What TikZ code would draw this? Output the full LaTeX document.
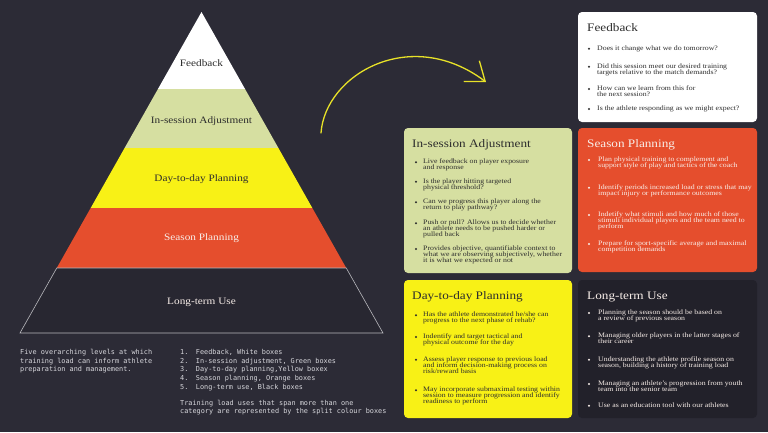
\documentclass[tikz,border=0pt]{standalone}
\usepackage{fontspec}
\setmainfont{Liberation Serif}[FakeStretch=1.15]
\newfontfamily\monof{DejaVu Sans Mono}
\usetikzlibrary{arrows.meta}
\definecolor{bg}{RGB}{44,43,54}
\definecolor{darkbox}{RGB}{34,33,42}
\definecolor{pdark}{RGB}{40,39,49}
\definecolor{pgreen}{RGB}{214,223,161}
\definecolor{pyellow}{RGB}{248,241,22}
\definecolor{porange}{RGB}{229,78,45}
\definecolor{arrowy}{RGB}{232,226,40}
\definecolor{darktext}{RGB}{45,45,45}
\definecolor{lighttext}{RGB}{248,238,233}
\definecolor{monotx}{RGB}{215,215,220}
\definecolor{outl}{RGB}{185,185,190}
\newcommand\myitem[6]{%
  \fill (#2,#4) circle[radius=1.1pt];
  \node[itemtext] (#1) at (#3,{#4-4.6}) {\vrule height 6pt depth 0pt width 0pt#6};}
\newcommand\monoline[4]{%
  \node[monotext] (#1) at (#2,{#3+1.9-6}) {\vrule height 6pt depth 0pt width 0pt#4};}
\begin{document}
\lineskiplimit=-10pt
\begin{tikzpicture}[x=1pt,y=-1pt,
  box/.style={rounded corners=4pt},
  ttl/.style={anchor=base west, inner sep=0, font=\fontsize{11.5}{13}\selectfont},
  itemtext/.style={inner sep=0, anchor=north west, align=left,
    font=\fontsize{6.8}{6}\selectfont},
  plabel/.style={anchor=base, inner sep=0, font=\fontsize{9.8}{11}\selectfont},
  monotext/.style={inner sep=0, anchor=north west, align=left, text=monotx,
    font=\monof\fontsize{6.85}{8.65}\selectfont}]
\fill[bg] (0,0) rectangle (768,432);
\useasboundingbox (0,0) rectangle (768,432);

% ---------- pyramid ----------
\coordinate (apex) at (201.5,12);
\fill[white] (apex) -- (245.04,89) -- (157.96,89) -- cycle;
\fill[pgreen] (157.96,89) -- (245.04,89) -- (278.4,148) -- (124.6,148) -- cycle;
\fill[pyellow] (124.6,148) -- (278.4,148) -- (312.32,208) -- (90.68,208) -- cycle;
\fill[porange] (90.68,208) -- (312.32,208) -- (346.25,268) -- (56.75,268) -- cycle;
\filldraw[fill=pdark, draw=outl, line width=0.6pt] (56.75,268) -- (346.25,268) -- (383,333) -- (20,333) -- cycle;

\node[plabel, text=darktext] (pFeed) at (201.5,{63+3.2}) {Feedback};
\node[plabel, text=darktext] (pIn) at (201.5,{120+3.2}) {In-session Adjustment};
\node[plabel, text=darktext] (pDay) at (201.5,{178+3.2}) {Day-to-day Planning};
\node[plabel, text=lighttext] (pSeason) at (201.5,{237+3.2}) {Season Planning};
\node[plabel, text=lighttext] (pLong) at (201.5,{301+3.2}) {Long-term Use};

% ---------- arrow ----------
\coordinate (arrS) at (321,133);
\coordinate (arrE) at (486,82);
\draw[arrowy, line width=1.3pt, line cap=round,
  -{Straight Barb[length=17pt,width=26pt,line width=1.3pt]}]
  (arrS) .. controls (325,75) and (410,25) .. (arrE);

% ---------- boxes ----------
\fill[box, white] (578,12) rectangle (757,122);
\fill[box, pgreen] (404,128) rectangle (572,273);
\fill[box, porange] (578,128) rectangle (757,272);
\fill[box, pyellow] (404,280) rectangle (572,418);
\fill[box, darkbox] (578,280) rectangle (757,418);

% Feedback
\begin{scope}[color=darktext]
\node[ttl] (tFeed) at (587,{27.5+3.8}) {Feedback};
\myitem{fb1}{589}{597}{48.7}{1}{Does it change what we do tomorrow?}
\myitem{fb2}{589}{597}{66.7}{2}{Did this session meet our desired training\\targets relative to the match demands?}
\myitem{fb3}{589}{597}{89}{2}{How can we learn from this for\\the next session?}
\myitem{fb4}{589}{597}{109}{1}{Is the athlete responding as we might expect?}
\end{scope}

% In-session
\begin{scope}[color=darktext]
\node[ttl] (tIn) at (412,{143.5+3.8}) {In-session Adjustment};
\myitem{is1}{416}{423}{162.3}{2}{Live feedback on player exposure\\and response}
\myitem{is2}{416}{423}{181.7}{2}{Is the player hitting targeted\\physical threshold?}
\myitem{is3}{416}{423}{202.3}{2}{Can we progress this player along the\\return to play pathway?}
\myitem{is4}{416}{423}{223.3}{3}{Push or pull? Allows us to decide whether\\an athlete needs to be pushed harder or\\pulled back}
\myitem{is5}{416}{423}{249}{3}{Provides objective, quantifiable context to\\what we are observing subjectively, whether\\it is what we expected or not}
\end{scope}

% Season
\begin{scope}[color=lighttext]
\node[ttl] (tSeason) at (587,{143.5+3.8}) {Season Planning};
\myitem{sp1}{589}{598}{160}{2}{Plan physical training to complement and\\support style of play and tactics of the coach}
\myitem{sp2}{589}{598}{187.7}{2}{Identify periods increased load or stress that may\\impact injury or performance outcomes}
\myitem{sp3}{589}{598}{215}{3}{Indetify what stimuli and how much of those\\stimuli individual players and the team need to\\perform}
\myitem{sp4}{589}{598}{244}{2}{Prepare for sport-specific average and maximal\\competition demands}
\end{scope}

% Day-to-day
\begin{scope}[color=darktext]
\node[ttl] (tDay) at (412,{295.5+3.8}) {Day-to-day Planning};
\myitem{dd1}{416}{423}{315.3}{2}{Has the athlete demonstrated he/she can\\progress to the next phase of rehab?}
\myitem{dd2}{416}{423}{337}{2}{Indentify and target tactical and\\physical outcome for the day}
\myitem{dd3}{416}{423}{359.7}{3}{Assess player response to previous load\\and inform decision-making process on\\risk/reward basis}
\myitem{dd4}{416}{423}{390.3}{3}{May incorporate submaximal testing within\\session to measure progression and identify\\readiness to perform}
\end{scope}

% Long-term
\begin{scope}[color=lighttext]
\node[ttl] (tLong) at (587,{295.5+3.8}) {Long-term Use};
\myitem{lt1}{589}{598}{313}{2}{Planning the season should be based on\\a review of previous season}
\myitem{lt2}{589}{598}{336.3}{2}{Managing older players in the latter stages of\\their career}
\myitem{lt3}{589}{598}{359.7}{2}{Understanding the athlete profile season on\\season, building a history of training load}
\myitem{lt4}{589}{598}{384}{2}{Managing an athlete's progression from youth\\team into the senior team}
\myitem{lt5}{589}{598}{405.7}{1}{Use as an education tool with our athletes}
\end{scope}

% ---------- bottom text ----------
\monoline{cap}{20}{352.5}{Five overarching levels at which\\training load can inform athlete\\preparation and management.}
\monoline{nums}{180}{352.5}{1.\\2.\\3.\\4.\\5.}
\monoline{legend}{195.7}{352.5}{Feedback, White boxes\\In-session adjustment, Green boxes\\Day-to-day planning,Yellow boxex\\Season planning, Orange boxes\\Long-term use, Black boxes}
\monoline{note}{180}{403}{Training load uses that span more than one\\category are represented by the split colour boxes}
\end{tikzpicture}
\end{document}
